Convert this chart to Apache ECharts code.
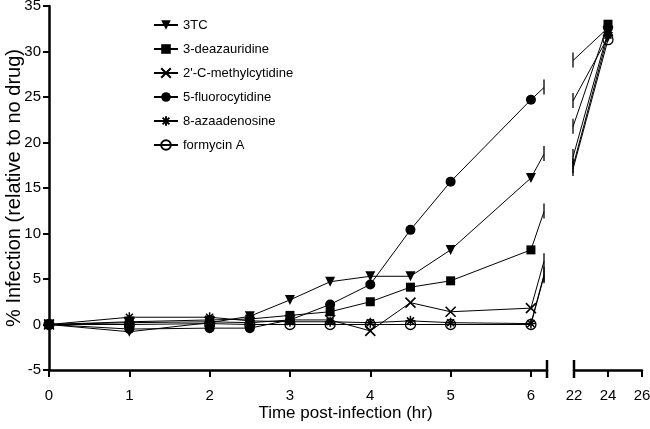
<!DOCTYPE html>
<html><head><meta charset="utf-8">
<script src="https://cdn.jsdelivr.net/npm/echarts@6/dist/echarts.min.js"></script>
<style>html,body{margin:0;padding:0;background:#fff}#c{width:650px;height:429px}</style>
</head><body><div id="c"></div>
<script>
// ---- data ----
const hoursEarly = [0, 1, 2, 2.5, 3, 3.5, 4, 4.5, 5, 6];
const hoursLate = [24];
const names = ['3TC', '3-deazauridine', "2'-C-methylcytidine", '5-fluorocytidine', '8-azaadenosine', 'formycin A'];
const early3TC   = [0, -0.8, 0.2, 0.9, 2.7, 4.7, 5.3, 5.3, 8.2, 16.1];
const earlyDeaz  = [0, 0.3, 0.5, 0.6, 1.0, 1.4, 2.5, 4.1, 4.8, 8.2];
const earlyMeC   = [0, 0.2, 0.3, 0.2, 0.5, 0.5, -0.7, 2.4, 1.4, 1.8];
const early5FC   = [0, -0.5, -0.4, -0.4, 0.5, 2.2, 4.4, 10.4, 15.7, 24.7];
const earlyAza   = [0, 0.8, 0.8, 0.4, 0.3, 0.3, 0.2, 0.4, 0.2, 0.1];
const earlyForm  = [0, 0.0, 0.1, 0.0, 0.0, 0.0, 0.0, 0.0, 0.0, 0.0];
const late3TC  = [31.6];
const lateDeaz = [33.0];
const lateMeC  = [32.2];
const late5FC  = [32.6];
const lateAza  = [31.8];
const lateForm = [31.3];
const yTickLabels = ['-5', '0', '5', '10', '15', '20', '25', '30', '35'];
const xTickLeft = ['0', '1', '2', '3', '4', '5', '6'];
const xTickRight = ['22', '24', '26'];
const xTitle = 'Time post-infection (hr)';
const yTitle = '% Infection (relative to no drug)';

const earlyVals = [early3TC, earlyDeaz, earlyMeC, early5FC, earlyAza, earlyForm];
const lateVals = [late3TC, lateDeaz, lateMeC, late5FC, lateAza, lateForm];

const FONT = 'Liberation Sans, Arial, sans-serif';
const symbols = [
  {symbol: 'triangle', rotate: 180, size: 10, color: '#000', border: '#000', bw: 0},
  {symbol: 'rect', rotate: 0, size: 9, color: '#000', border: '#000', bw: 0},
  {symbol: 'path://M0,0L10,10M10,0L0,10', rotate: 0, size: 10, color: 'rgba(0,0,0,0)', border: '#000', bw: 1.6},
  {symbol: 'circle', rotate: 0, size: 10, color: '#000', border: '#000', bw: 0},
  {symbol: 'path://M5,0L5,10M0,5L10,5M1.5,1.5L8.5,8.5M8.5,1.5L1.5,8.5', rotate: 0, size: 10, color: 'rgba(0,0,0,0)', border: '#000', bw: 1.5},
  {symbol: 'circle', rotate: 0, size: 10, color: 'rgba(0,0,0,0)', border: '#000', bw: 1.3}
];

const chart = echarts.init(document.getElementById('c'), null, {renderer: 'canvas'});

const series = [];
const order = [5, 4, 3, 2, 0, 1];
order.forEach(i => {
  const s = symbols[i];
  const common = {
    type: 'line', name: names[i], symbol: s.symbol, symbolSize: s.size, symbolRotate: s.rotate,
    showAllSymbol: true, clip: true,
    lineStyle: {color: '#000', width: 1},
    itemStyle: {color: s.color, borderColor: s.border, borderWidth: s.bw},
    emphasis: {disabled: true}
  };
  series.push(Object.assign({}, common, {
    xAxisIndex: 0, yAxisIndex: 0,
    data: hoursEarly.map((h, k) => [h, earlyVals[i][k]])
  }));
  series.push(Object.assign({}, common, {
    xAxisIndex: 1, yAxisIndex: 1,
    data: hoursLate.map((h, k) => [h, lateVals[i][k]])
  }));
});

const axisLineStyle = {color: '#000', width: 2.5};
chart.setOption({
  animation: false,
  backgroundColor: '#fff',
  grid: [
    {left: 49, top: 6, width: 498, height: 364, containLabel: false, outerBoundsMode: 'none'},
    {left: 574, top: 6, width: 68, height: 364, containLabel: false, outerBoundsMode: 'none'}
  ],
  xAxis: [
    {gridIndex: 0, type: 'value', min: 0, max: 6.2, interval: 1,
     axisLine: {onZero: false, lineStyle: axisLineStyle},
     axisTick: {length: 7, lineStyle: {color: '#000', width: 2}},
     axisLabel: {margin: 18, fontFamily: FONT, fontSize: 15, color: '#000',
       formatter: v => (xTickLeft.indexOf(String(v)) >= 0 ? String(v) : '')},
     splitLine: {show: false}},
    {gridIndex: 1, type: 'value', min: 22, max: 26, interval: 2,
     axisLine: {onZero: false, lineStyle: axisLineStyle},
     axisTick: {length: 7, lineStyle: {color: '#000', width: 2}},
     axisLabel: {margin: 18, fontFamily: FONT, fontSize: 15, color: '#000',
       formatter: v => (xTickRight.indexOf(String(v)) >= 0 ? String(v) : '')},
     splitLine: {show: false}}
  ],
  yAxis: [
    {gridIndex: 0, type: 'value', min: -5, max: 35, interval: 5,
     name: yTitle, nameLocation: 'middle', nameGap: 25, nameMoveOverlap: false,
     nameTextStyle: {fontFamily: FONT, fontSize: 20, color: '#000'},
     axisLine: {show: true, onZero: false, lineStyle: axisLineStyle},
     axisTick: {show: true, length: 6, lineStyle: {color: '#000', width: 2}},
     axisLabel: {margin: 8, fontFamily: FONT, fontSize: 15, color: '#000',
       formatter: v => (yTickLabels.indexOf(String(v)) >= 0 ? String(v) : '')},
     splitLine: {show: false}},
    {gridIndex: 1, type: 'value', min: -5, max: 35, interval: 5, show: false}
  ],
  legend: {
    orient: 'vertical', left: 148, top: 13,
    itemWidth: 24, itemHeight: 12, itemGap: 10,
    data: names,
    textStyle: {fontFamily: FONT, fontSize: 13, color: '#000', lineHeight: 14},
    selectedMode: false
  },
  series: series
});

// axis break marks, connectors across the break and x title, positioned by the chart's own scales
function addBreakGraphics() {
  const g = [];
  const axisY = chart.convertToPixel({yAxisIndex: 0}, -5);
  const x0 = chart.convertToPixel({xAxisIndex: 0}, 0);
  const xEnd = chart.convertToPixel({xAxisIndex: 0}, 6.2);
  const xStart = chart.convertToPixel({xAxisIndex: 1}, 22);
  const xLast = chart.convertToPixel({xAxisIndex: 1}, 26);
  const st = {stroke: '#000', lineWidth: 2.5};
  g.push({type: 'line', z: 10, shape: {x1: xEnd, y1: axisY - 10, x2: xEnd, y2: axisY + 8}, style: st});
  g.push({type: 'line', z: 10, shape: {x1: xStart, y1: axisY - 10, x2: xStart, y2: axisY + 8}, style: st});
  g.push({type: 'text', z: 10, x: (x0 + xLast) / 2, y: axisY + 43,
    style: {text: xTitle, fontFamily: FONT, fontSize: 17, fill: '#000', align: 'center', verticalAlign: 'middle'}});
  const xl = xEnd - 3, xr = xStart - 1;
  for (let i = 0; i < names.length; i++) {
    const last = hoursEarly.length - 1;
    const a = chart.convertToPixel({xAxisIndex: 0, yAxisIndex: 0}, [hoursEarly[last], earlyVals[i][last]]);
    const b = chart.convertToPixel({xAxisIndex: 1, yAxisIndex: 1}, [hoursLate[0], lateVals[i][0]]);
    const yAt = x => a[1] + (b[1] - a[1]) * (x - a[0]) / (b[0] - a[0]);
    const yl = yAt(xl), yr = yAt(xr);
    const ls = {stroke: '#000', lineWidth: 1};
    g.push({type: 'line', z: 5, shape: {x1: a[0], y1: a[1], x2: xl, y2: yl}, style: ls});
    g.push({type: 'line', z: 5, shape: {x1: xr, y1: yr, x2: b[0], y2: b[1]}, style: ls});
    const bs = {stroke: '#000', lineWidth: 1.3};
    g.push({type: 'line', z: 5, shape: {x1: xl, y1: yl - 8, x2: xl, y2: yl + 7}, style: bs});
    g.push({type: 'line', z: 5, shape: {x1: xr, y1: yr - 8, x2: xr, y2: yr + 7}, style: bs});
  }
  chart.setOption({graphic: g});
}
addBreakGraphics();
</script>
</body></html>
